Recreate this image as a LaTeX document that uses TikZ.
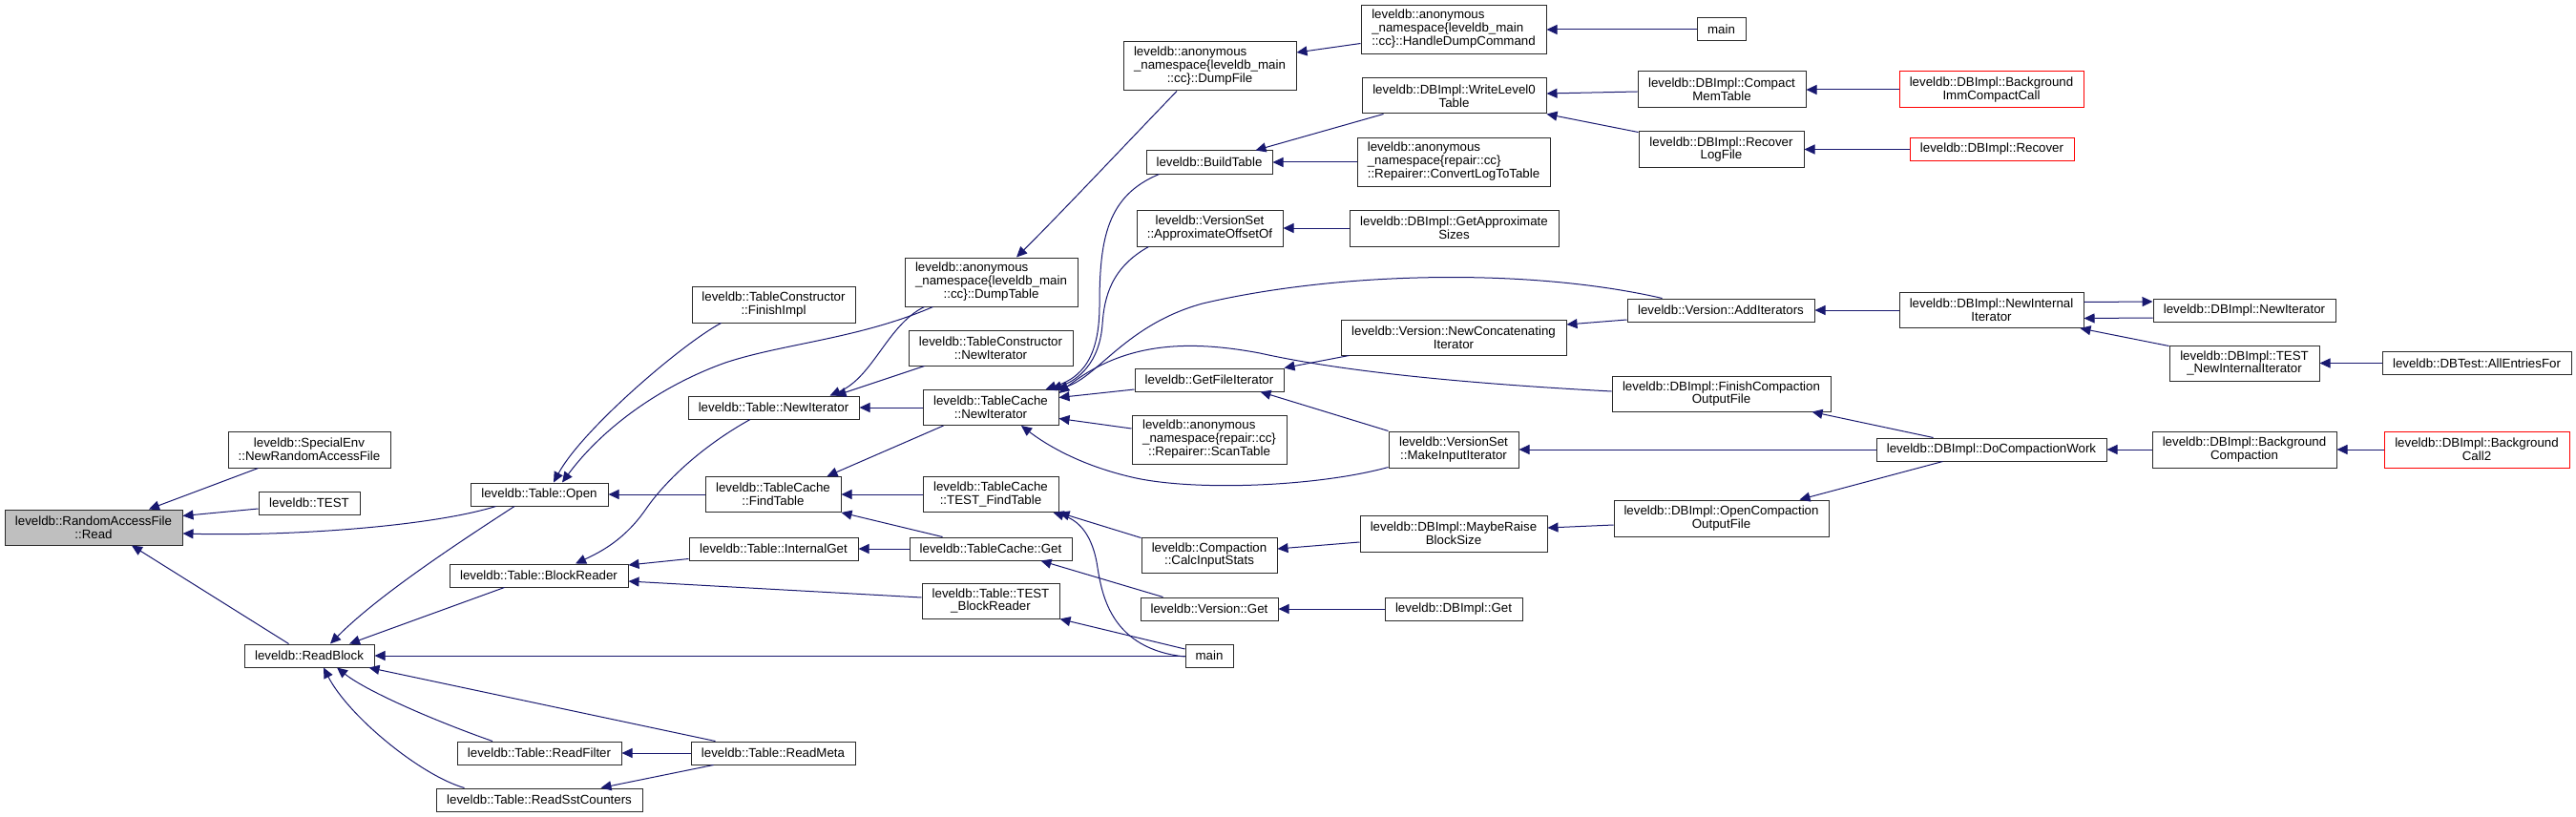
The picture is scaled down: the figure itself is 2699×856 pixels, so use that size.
\documentclass[tikz,border=0pt]{standalone}
\usepackage{fontspec}
\setmainfont{Liberation Sans}
\usetikzlibrary{arrows.meta}
\definecolor{edgec}{HTML}{191970}
\definecolor{grayfill}{HTML}{BFBFBF}
\definecolor{boxc}{HTML}{2A2A2A}
\newcommand\fnt{\fontsize{13.3pt}{13.8pt}\selectfont}
\newcommand\anon[3]{\begin{tabular}{@{}l@{}}#1\\#2\\\multicolumn{1}{@{}c@{}}{#3}\end{tabular}}
\newcommand\bx[7]{%
 \pgfmathsetmacro\bxcx{(#3+#5)/2}\pgfmathsetmacro\bxcy{(#4+#6)/2}%
 \pgfmathsetmacro\bxw{#5-#3}\pgfmathsetmacro\bxh{#6-#4}%
 \node[nb,#1,minimum width=\bxw pt,minimum height=\bxh pt] (#2) at (\bxcx,\bxcy) {#7};}
\tikzset{
 nb/.style={draw=boxc, line width=1pt, fill=white, inner sep=0pt, font=\fnt, align=center},
 grayb/.style={fill=grayfill},
 redb/.style={draw=red},
 plainb/.style={},
 arr/.style={draw=edgec, line width=1pt, -{Triangle[length=11pt,width=10pt,fill=edgec]}}
}
\begin{document}
\begin{tikzpicture}[x=1pt,y=-1pt]
\fill[white] (0,0) rectangle (2699,856);
\useasboundingbox (0,0) rectangle (2699,856);
% nodes
\bx{grayb}{read}{5}{534}{191}{571}{leveldb::RandomAccessFile\\::Read}
\bx{plainb}{spenv}{239}{452}{409}{490}{leveldb::SpecialEnv\\::NewRandomAccessFile}
\bx{plainb}{test}{271}{515}{377}{539}{leveldb::TEST}
\bx{plainb}{open}{493}{506}{637}{530}{leveldb::Table::Open}
\bx{plainb}{blockreader}{471}{591}{658}{615}{leveldb::Table::BlockReader}
\bx{plainb}{readblock}{256}{675}{392}{699}{leveldb::ReadBlock}
\bx{plainb}{readfilter}{479}{777}{651}{801}{leveldb::Table::ReadFilter}
\bx{plainb}{readsst}{457}{826}{673}{850}{leveldb::Table::ReadSstCounters}
\bx{plainb}{dumpfile}{1177}{44}{1358}{95}{\anon{leveldb::anonymous}{\_namespace\{leveldb\_main}{::cc\}::DumpFile}}
\bx{plainb}{buildtable}{1201}{158}{1333}{182}{leveldb::BuildTable}
\bx{plainb}{approxoff}{1191}{220}{1344}{258}{leveldb::VersionSet\\::ApproximateOffsetOf}
\bx{plainb}{dumptable}{948}{270}{1129}{321}{\anon{leveldb::anonymous}{\_namespace\{leveldb\_main}{::cc\}::DumpTable}}
\bx{plainb}{finishimpl}{725}{300}{896}{338}{leveldb::TableConstructor\\::FinishImpl}
\bx{plainb}{tcnewiter}{952}{346}{1124}{383}{leveldb::TableConstructor\\::NewIterator}
\bx{plainb}{getfileiter}{1189}{386}{1345}{410}{leveldb::GetFileIterator}
\bx{plainb}{tnewiter}{721}{415}{900}{439}{leveldb::Table::NewIterator}
\bx{plainb}{tcachenewiter}{967}{408.5}{1109}{445.5}{leveldb::TableCache\\::NewIterator}
\bx{plainb}{scantable}{1186}{435}{1348}{486}{\anon{leveldb::anonymous}{\_namespace\{repair::cc\}}{::Repairer::ScanTable}}
\bx{plainb}{findtable}{739}{499.5}{881}{536.5}{leveldb::TableCache\\::FindTable}
\bx{plainb}{testfindtable}{967}{499.5}{1109}{536.5}{leveldb::TableCache\\::TEST\_FindTable}
\bx{plainb}{internalget}{722}{563}{899}{587}{leveldb::Table::InternalGet}
\bx{plainb}{tcget}{953}{563}{1123}{587}{leveldb::TableCache::Get}
\bx{plainb}{calcinput}{1196}{563}{1338}{600}{leveldb::Compaction\\::CalcInputStats}
\bx{plainb}{testblockreader}{966}{611}{1110}{648}{leveldb::Table::TEST\\\_BlockReader}
\bx{plainb}{versionget}{1195}{626}{1339}{650}{leveldb::Version::Get}
\bx{plainb}{main2}{1242}{675}{1292}{699}{main}
\bx{plainb}{readmeta}{724}{777}{896}{801}{leveldb::Table::ReadMeta}
\bx{plainb}{handledump}{1426}{5.5}{1620}{56.5}{\anon{leveldb::anonymous}{\_namespace\{leveldb\_main}{::cc\}::HandleDumpCommand}}
\bx{plainb}{main1}{1778}{19}{1829}{43}{main}
\bx{plainb}{writelevel0}{1427}{82}{1620}{119}{leveldb::DBImpl::WriteLevel0\\Table}
\bx{plainb}{compactmem}{1716}{75}{1892}{113}{leveldb::DBImpl::Compact\\MemTable}
\bx{plainb}{convertlog}{1422}{144.5}{1624}{195.5}{\anon{leveldb::anonymous}{\_namespace\{repair::cc\}}{::Repairer::ConvertLogToTable}}
\bx{plainb}{recoverlog}{1717}{138}{1890}{175}{leveldb::DBImpl::Recover\\LogFile}
\bx{plainb}{getapprox}{1414}{220}{1633}{258}{leveldb::DBImpl::GetApproximate\\Sizes}
\bx{plainb}{additer}{1705}{313}{1901}{337}{leveldb::Version::AddIterators}
\bx{plainb}{newconcat}{1405}{335}{1641}{372}{leveldb::Version::NewConcatenating\\Iterator}
\bx{plainb}{finishcomp}{1689}{394}{1918}{431}{leveldb::DBImpl::FinishCompaction\\OutputFile}
\bx{plainb}{makeinput}{1455}{452}{1591}{490}{leveldb::VersionSet\\::MakeInputIterator}
\bx{plainb}{opencomp}{1691}{524}{1916}{562}{leveldb::DBImpl::OpenCompaction\\OutputFile}
\bx{plainb}{mayberaise}{1425}{540}{1621}{578}{leveldb::DBImpl::MaybeRaise\\BlockSize}
\bx{plainb}{dbget}{1451}{626}{1595}{650}{leveldb::DBImpl::Get}
\bx{redb}{bgimm}{1990}{75}{2183}{113}{leveldb::DBImpl::Background\\ImmCompactCall}
\bx{redb}{recover}{2001}{144.5}{2173}{168.5}{leveldb::DBImpl::Recover}
\bx{plainb}{newinternal}{1990}{306.5}{2183}{343.5}{leveldb::DBImpl::NewInternal\\Iterator}
\bx{plainb}{dbnewiter}{2256}{313}{2447}{337}{leveldb::DBImpl::NewIterator}
\bx{plainb}{testnewinternal}{2273}{362}{2430}{399}{leveldb::DBImpl::TEST\\\_NewInternalIterator}
\bx{plainb}{allentries}{2496}{368.5}{2694}{392.5}{leveldb::DBTest::AllEntriesFor}
\bx{plainb}{docompaction}{1966}{459}{2207}{483}{leveldb::DBImpl::DoCompactionWork}
\bx{plainb}{bgcompaction}{2255}{452}{2448}{490}{leveldb::DBImpl::Background\\Compaction}
\bx{redb}{bgcall2}{2498}{452}{2692}{490}{leveldb::DBImpl::Background\\Call2}
% edges
\draw[arr] ([xshift=32pt]spenv.south west) -- ([xshift=58pt]read.north);
\draw[arr] ([yshift=-6pt]test.west) -- ([yshift=12pt]read.east);
\draw[arr] ([xshift=27pt]open.south west) .. controls (450,552) and (300,562) .. ([yshift=-6.5pt]read.east);
\draw[arr] ([xshift=47pt]readblock.north west) -- ([xshift=40pt]read.south);
\draw[arr] ([xshift=31pt]finishimpl.south west) .. controls (715,360) and (610,450) .. ([xshift=15pt]open.north);
\draw[arr] ([xshift=30pt]dumptable.south west) .. controls (900,355) and (820,360) .. (760,380) .. controls (690,405) and (630,450) .. ([xshift=24pt]open.north);
\draw[arr] (findtable.west) -- (open.east);
\draw[arr] ([xshift=-26pt]open.south) .. controls (475,572) and (395,625) .. ([xshift=22pt]readblock.north);
\draw[arr] ([xshift=58pt]blockreader.south west) -- ([xshift=42pt]readblock.north);
\draw[arr] (main2.west) -- (readblock.east);
\draw[arr] ([xshift=26pt]readmeta.north west) -- ([xshift=-6pt]readblock.south east);
\draw[arr] ([xshift=-49pt]readfilter.north) .. controls (460,757) and (385,725) .. ([xshift=29pt]readblock.south);
\draw[arr] ([xshift=30pt]readsst.north west) .. controls (440,812) and (365,750) .. ([xshift=15pt]readblock.south);
\draw[arr] (readmeta.west) -- (readfilter.east);
\draw[arr] ([xshift=24pt]readmeta.south west) -- ([xshift=-44pt]readsst.north east);
\draw[arr] ([xshift=-24.5pt]tnewiter.south) .. controls (740,465) and (700,500) .. (677,533) .. controls (655,565) and (630,578) .. ([xshift=38.5pt]blockreader.north);
\draw[arr] ([yshift=-10.5pt]internalget.west) -- ([yshift=11pt]blockreader.east);
\draw[arr] ([yshift=3.5pt]testblockreader.west) -- ([yshift=-6pt]blockreader.east);
\draw[arr] ([xshift=21pt]dumptable.south west) .. controls (930,340) and (915,395) .. ([xshift=59pt]tnewiter.north);
\draw[arr] ([xshift=17pt]tcnewiter.south west) -- ([xshift=65pt]tnewiter.north);
\draw[arr] (tcachenewiter.west) -- (tnewiter.east);
\draw[arr] ([xshift=14pt]buildtable.south west) .. controls (1160,205) and (1152,250) .. (1152,320) .. controls (1152,385) and (1125,398) .. ([xshift=-14pt]tcachenewiter.north east);
\draw[arr] ([xshift=13pt]approxoff.south west) .. controls (1165,280) and (1157,310) .. (1155,340) .. controls (1152,380) and (1130,398) .. ([xshift=-8pt]tcachenewiter.north east);
\draw[arr] ([xshift=37pt]additer.north west) .. controls (1600,280) and (1400,285) .. (1260,318) .. controls (1180,340) and (1150,395) .. ([xshift=-2pt]tcachenewiter.north east);
\draw[arr] ([yshift=2.5pt]finishcomp.west) .. controls (1540,402) and (1410,390) .. (1320,370) .. controls (1240,355) and (1175,360) .. ([yshift=-4pt]tcachenewiter.north east);
\draw[arr] ([yshift=-10pt]getfileiter.west) -- ([yshift=10.5pt]tcachenewiter.east);
\draw[arr] ([yshift=11.5pt]scantable.west) -- ([yshift=-11.5pt]tcachenewiter.east);
\draw[arr] ([yshift=1pt]makeinput.south west) .. controls (1380,510) and (1250,515) .. (1186,500) .. controls (1130,487) and (1095,465) .. ([xshift=32pt]tcachenewiter.south);
\draw[arr] ([xshift=22pt]tcachenewiter.south west) -- ([xshift=-15pt]findtable.north east);
\draw[arr] (testfindtable.west) -- (findtable.east);
\draw[arr] ([xshift=35pt]tcget.north west) -- (findtable.south east);
\draw[arr] (tcget.west) -- (internalget.east);
\draw[arr] ([yshift=-1pt]calcinput.north west) -- (testfindtable.south east);
\draw[arr] ([yshift=-1pt]main2.west) .. controls (1165,680) and (1155,625) .. (1150,595) .. controls (1145,560) and (1130,545) .. ([xshift=-6pt]testfindtable.south east);
\draw[arr] ([xshift=24pt]versionget.north west) -- ([xshift=-33pt]tcget.south east);
\draw[arr] ([yshift=7pt]main2.west) -- (testblockreader.south east);
\draw[arr] ([xshift=-34.5pt]dumpfile.south) .. controls (1190,140) and (1110,225) .. ([xshift=26.5pt]dumptable.north);
\draw[arr] ([yshift=-14.5pt]handledump.west) -- ([yshift=14.5pt]dumpfile.east);
\draw[arr] (main1.west) -- (handledump.east);
\draw[arr] ([xshift=23pt]writelevel0.south west) -- ([xshift=-18pt]buildtable.north east);
\draw[arr] (convertlog.west) -- (buildtable.east);
\draw[arr] ([yshift=-2pt]compactmem.west) -- ([yshift=2.5pt]writelevel0.east);
\draw[arr] ([yshift=-1pt]recoverlog.north west) -- (writelevel0.south east);
\draw[arr] (bgimm.west) -- (compactmem.east);
\draw[arr] (recover.west) -- (recoverlog.east);
\draw[arr] (getapprox.west) -- (approxoff.east);
\draw[arr] ([xshift=9pt]newconcat.south west) -- (getfileiter.north east);
\draw[arr] (makeinput.north west) -- ([xshift=-25pt]getfileiter.south east);
\draw[arr] ([yshift=-10pt]additer.west) -- ([yshift=13.5pt]newconcat.east);
\draw[arr] (newinternal.west) -- (additer.east);
\draw[arr] ([yshift=8.5pt]newinternal.east) -- ([yshift=9pt]dbnewiter.west);
\draw[arr] ([yshift=-8pt]dbnewiter.west) -- ([yshift=-8.5pt]newinternal.east);
\draw[arr] ([yshift=-1pt]testnewinternal.north west) -- ([xshift=-4pt]newinternal.south east);
\draw[arr] (allentries.west) -- (testnewinternal.east);
\draw[arr] ([xshift=60pt]docompaction.north west) -- ([xshift=-20pt]finishcomp.south east);
\draw[arr] (docompaction.west) -- (makeinput.east);
\draw[arr] ([xshift=70pt]docompaction.south west) -- ([xshift=-31pt]opencomp.north east);
\draw[arr] ([yshift=-7pt]opencomp.west) -- ([yshift=6pt]mayberaise.east);
\draw[arr] ([yshift=-9pt]mayberaise.west) -- ([yshift=6.5pt]calcinput.east);
\draw[arr] (dbget.west) -- (versionget.east);
\draw[arr] (bgcompaction.west) -- (docompaction.east);
\draw[arr] (bgcall2.west) -- (bgcompaction.east);
\end{tikzpicture}
\end{document}
